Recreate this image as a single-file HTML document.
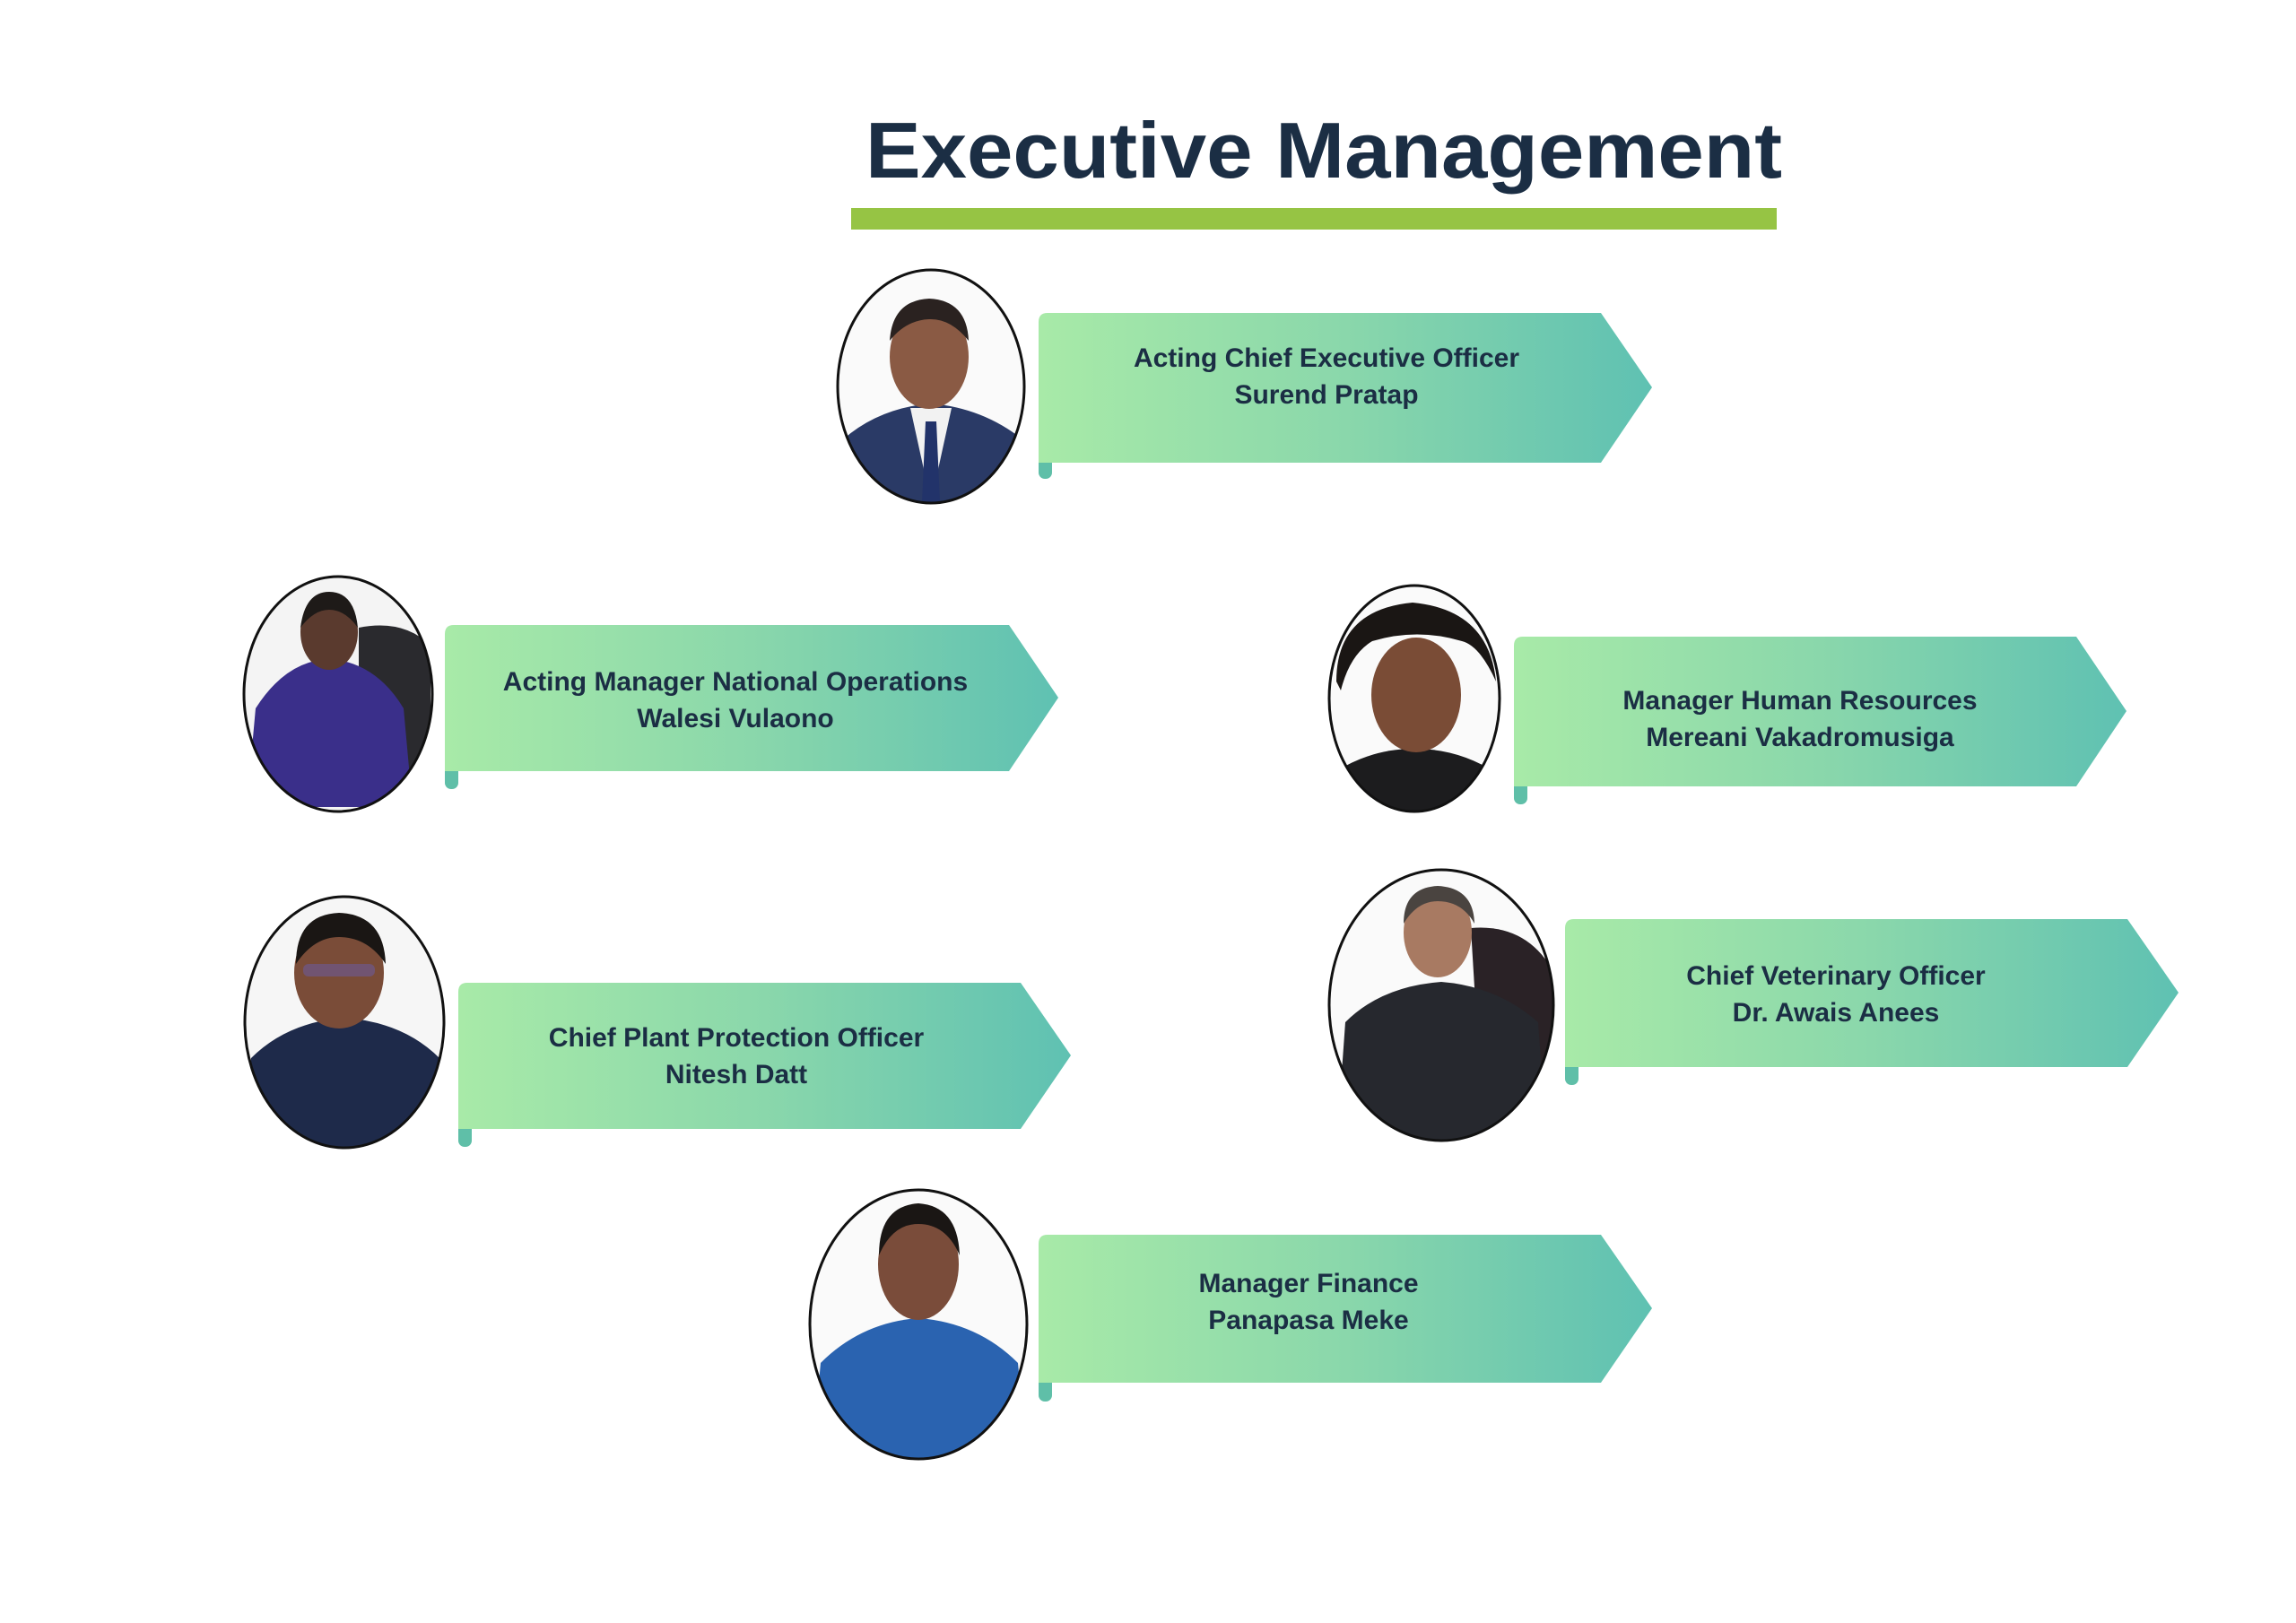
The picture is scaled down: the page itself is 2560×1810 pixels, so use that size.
<!DOCTYPE html>
<html><head><meta charset="utf-8"><style>
html,body{margin:0;padding:0;background:#fff}
svg{display:block}
</style></head><body>
<svg width="2560" height="1810" viewBox="0 0 2560 1810" xmlns="http://www.w3.org/2000/svg">
<defs>
<linearGradient id="g" x1="0" y1="0" x2="1" y2="0">
<stop offset="0" stop-color="#a8eaa8"/>
<stop offset="0.5" stop-color="#8ad7ab"/>
<stop offset="1" stop-color="#5fc1b2"/>
</linearGradient>
<clipPath id="c1"><ellipse cx="1038" cy="431" rx="103" ry="129"/></clipPath>
<clipPath id="c2"><ellipse cx="377" cy="774" rx="104" ry="130"/></clipPath>
<clipPath id="c3"><ellipse cx="1577" cy="779" rx="94" ry="125"/></clipPath>
<clipPath id="c4"><ellipse cx="384" cy="1140" rx="110" ry="139"/></clipPath>
<clipPath id="c5"><ellipse cx="1607" cy="1121" rx="124" ry="150"/></clipPath>
<clipPath id="c6"><ellipse cx="1024" cy="1477" rx="120" ry="149"/></clipPath>
</defs>

<text x="965" y="198" font-family="Liberation Sans, sans-serif" font-weight="bold" font-size="88" fill="#1b2e44" textLength="1022" lengthAdjust="spacingAndGlyphs">Executive Management</text>
<rect x="949" y="232" width="1032" height="24" fill="#96c444"/>

<!-- banners -->
<g font-family="Liberation Sans, sans-serif" font-weight="bold" font-size="30" fill="#1b2e44" text-anchor="middle">
<!-- CEO -->
<rect x="1158" y="500" width="15" height="34" rx="7" fill="#5fbfa8"/>
<path d="M1168,349 L1785,349 L1842,432 L1785,516 L1158,516 L1158,359 Q1158,349 1168,349Z" fill="url(#g)"/>
<text x="1479" y="409">Acting Chief Executive Officer</text>
<text x="1479" y="450">Surend Pratap</text>
<!-- Walesi -->
<rect x="496" y="844" width="15" height="36" rx="7" fill="#5fbfa8"/>
<path d="M506,697 L1125,697 L1180,778 L1125,860 L496,860 L496,707 Q496,697 506,697Z" fill="url(#g)"/>
<text x="820" y="770">Acting  Manager National Operations</text>
<text x="820" y="811">Walesi Vulaono</text>
<!-- Mereani -->
<rect x="1688" y="861" width="15" height="36" rx="7" fill="#5fbfa8"/>
<path d="M1698,710 L2315,710 L2371,793 L2315,877 L1688,877 L1688,720 Q1688,710 1698,710Z" fill="url(#g)"/>
<text x="2007" y="791">Manager Human Resources</text>
<text x="2007" y="832">Mereani Vakadromusiga</text>
<!-- Nitesh -->
<rect x="511" y="1243" width="15" height="36" rx="7" fill="#5fbfa8"/>
<path d="M521,1096 L1138,1096 L1194,1177 L1138,1259 L511,1259 L511,1106 Q511,1096 521,1096Z" fill="url(#g)"/>
<text x="821" y="1167">Chief Plant Protection Officer</text>
<text x="821" y="1208">Nitesh Datt</text>
<!-- Awais -->
<rect x="1745" y="1174" width="15" height="36" rx="7" fill="#5fbfa8"/>
<path d="M1755,1025 L2372,1025 L2429,1107 L2372,1190 L1745,1190 L1745,1035 Q1745,1025 1755,1025Z" fill="url(#g)"/>
<text x="2047" y="1098">Chief Veterinary Officer</text>
<text x="2047" y="1139">Dr. Awais Anees</text>
<!-- Panapasa -->
<rect x="1158" y="1526" width="15" height="37" rx="7" fill="#5fbfa8"/>
<path d="M1168,1377 L1785,1377 L1842,1459 L1785,1542 L1158,1542 L1158,1387 Q1158,1377 1168,1377Z" fill="url(#g)"/>
<text x="1459" y="1441">Manager Finance</text>
<text x="1459" y="1482">Panapasa Meke</text>
</g>

<!-- photos -->
<g clip-path="url(#c1)">
<rect x="930" y="300" width="220" height="270" fill="#fafafa"/>
<path d="M930,560 L940,490 Q980,455 1038,450 Q1096,455 1140,490 L1150,560Z" fill="#2a3a66"/>
<path d="M1015,455 L1038,560 L1061,455Z" fill="#f2f2f2"/>
<path d="M1032,470 L1044,470 L1048,560 L1028,560Z" fill="#22336a"/>
<ellipse cx="1036" cy="398" rx="44" ry="58" fill="#8a5a44"/>
<path d="M992,380 Q995,335 1036,333 Q1078,335 1080,380 Q1060,355 1036,356 Q1010,357 992,380Z" fill="#2a2220"/>
</g>
<ellipse cx="1038" cy="431" rx="104" ry="130" fill="none" stroke="#111" stroke-width="3"/>

<g clip-path="url(#c2)">
<rect x="270" y="640" width="215" height="270" fill="#f4f4f4"/>
<path d="M400,700 Q450,690 480,720 L480,900 L400,900Z" fill="#2a2a2e"/>
<path d="M275,900 L285,790 Q320,735 370,735 Q420,740 450,790 L460,900Z" fill="#3a2f8a"/>
<ellipse cx="367" cy="705" rx="32" ry="42" fill="#5a3a2e"/>
<path d="M335,700 Q340,660 367,660 Q395,660 399,700 Q385,680 367,680 Q350,680 335,700Z" fill="#1e1a18"/>
</g>
<ellipse cx="377" cy="774" rx="105" ry="131" fill="none" stroke="#111" stroke-width="3"/>

<g clip-path="url(#c3)">
<rect x="1480" y="650" width="200" height="260" fill="#fafafa"/>
<path d="M1480,910 L1490,860 Q1530,835 1577,835 Q1625,835 1665,860 L1675,910Z" fill="#1c1c1e"/>
<ellipse cx="1579" cy="775" rx="50" ry="64" fill="#7a4c36"/>
<path d="M1490,760 Q1490,680 1575,672 Q1660,680 1668,760 Q1650,720 1630,715 Q1580,700 1530,715 Q1505,730 1495,770Z" fill="#1a1614"/>
</g>
<ellipse cx="1577" cy="779" rx="95" ry="126" fill="none" stroke="#111" stroke-width="3"/>

<g clip-path="url(#c4)">
<rect x="270" y="995" width="230" height="290" fill="#f6f6f6"/>
<path d="M270,1285 L280,1180 Q320,1140 384,1135 Q450,1140 490,1180 L500,1285Z" fill="#1e2a4a"/>
<ellipse cx="378" cy="1085" rx="50" ry="62" fill="#7a4c38"/>
<path d="M330,1075 Q330,1020 378,1018 Q428,1020 430,1075 Q410,1045 378,1045 Q350,1045 330,1075Z" fill="#1a1614"/>
<rect x="338" y="1075" width="80" height="14" rx="6" fill="#6a5a9a" opacity="0.6"/>
</g>
<ellipse cx="384" cy="1140" rx="111" ry="140" fill="none" stroke="#111" stroke-width="3"/>

<g clip-path="url(#c5)">
<rect x="1480" y="970" width="255" height="305" fill="#fafafa"/>
<path d="M1640,1035 Q1700,1030 1730,1080 L1735,1200 L1650,1200Z" fill="#2a2226"/>
<path d="M1490,1280 L1500,1140 Q1540,1100 1607,1095 Q1670,1100 1715,1140 L1725,1280Z" fill="#26282e"/>
<ellipse cx="1603" cy="1040" rx="38" ry="50" fill="#a87a62"/>
<path d="M1565,1030 Q1565,990 1603,988 Q1643,990 1644,1030 Q1630,1005 1603,1005 Q1580,1005 1565,1030Z" fill="#4a4440"/>
</g>
<ellipse cx="1607" cy="1121" rx="125" ry="151" fill="none" stroke="#111" stroke-width="3"/>

<g clip-path="url(#c6)">
<rect x="900" y="1325" width="250" height="305" fill="#fafafa"/>
<path d="M905,1630 L915,1520 Q960,1475 1024,1470 Q1090,1475 1135,1520 L1145,1630Z" fill="#2a63b0"/>
<ellipse cx="1024" cy="1410" rx="45" ry="62" fill="#7a4c3a"/>
<path d="M980,1400 Q980,1345 1024,1342 Q1068,1345 1070,1400 Q1055,1365 1024,1365 Q995,1365 980,1400Z" fill="#1a1614"/>
</g>
<ellipse cx="1024" cy="1477" rx="121" ry="150" fill="none" stroke="#111" stroke-width="3"/>
</svg>
</body></html>
